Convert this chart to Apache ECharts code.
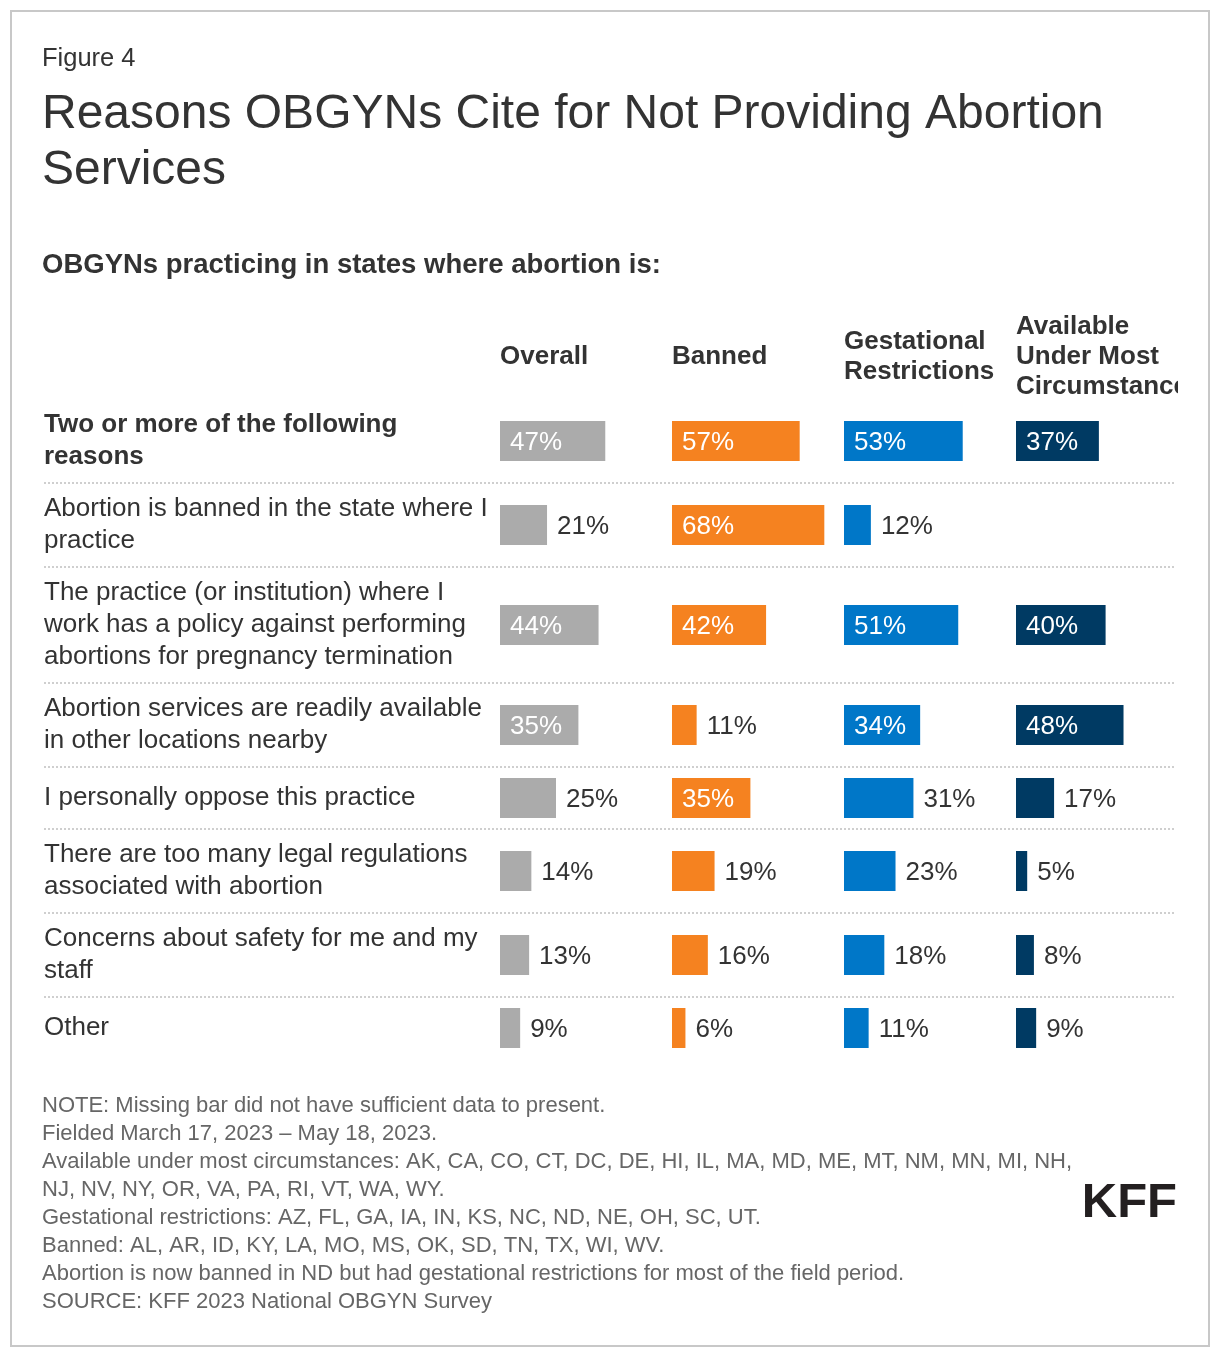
<!DOCTYPE html>
<html>
<head>
<meta charset="utf-8">
<script src="https://cdn.jsdelivr.net/npm/echarts@6/dist/echarts.min.js"></script>
<style>
html,body{margin:0;padding:0;background:#fff;}
#chart{width:1220px;height:1358px;}
</style>
</head>
<body>
<div id="chart"></div>
<script>
// ---- Data ----
const rowLabels = [
  'Two or more of the following\nreasons',
  'Abortion is banned in the state where I\npractice',
  'The practice (or institution) where I\nwork has a policy against performing\nabortions for pregnancy termination',
  'Abortion services are readily available\nin other locations nearby',
  'I personally oppose this practice',
  'There are too many legal regulations\nassociated with abortion',
  'Concerns about safety for me and my\nstaff',
  'Other'
];
const columnNames = ['Overall', 'Banned', 'Gestational\nRestrictions', 'Available\nUnder Most\nCircumstances'];
const overall     = [47, 21, 44, 35, 25, 14, 13, 9];
const banned      = [57, 68, 42, 11, 35, 19, 16, 6];
const gestational = [53, 12, 51, 34, 31, 23, 18, 11];
const available   = [37, null, 40, 48, 17, 5, 8, 9];
const seriesValues = [overall, banned, gestational, available];

const figureLabel = 'Figure 4';
const titleText = 'Reasons OBGYNs Cite for Not Providing Abortion\nServices';
const subtitleText = 'OBGYNs practicing in states where abortion is:';
const notesText = [
  'NOTE: Missing bar did not have sufficient data to present.',
  'Fielded March 17, 2023 \u2013 May 18, 2023.',
  'Available under most circumstances: AK, CA, CO, CT, DC, DE, HI, IL, MA, MD, ME, MT, NM, MN, MI, NH,',
  'NJ, NV, NY, OR, VA, PA, RI, VT, WA, WY.',
  'Gestational restrictions: AZ, FL, GA, IA, IN, KS, NC, ND, NE, OH, SC, UT.',
  'Banned: AL, AR, ID, KY, LA, MO, MS, OK, SD, TN, TX, WI, WV.',
  'Abortion is now banned in ND but had gestational restrictions for most of the field period.',
  'SOURCE: KFF 2023 National OBGYN Survey'
].join('\n');

// ---- Style / layout ----
const FONT = '"Liberation Sans", Arial, Helvetica, sans-serif';
const colors = ['#ababab', '#f58220', '#0077c8', '#003a63'];
const colLeft = [500, 672, 844, 1016];
const pxPerPct = 2.24;
const barH = 40;
const insideThreshold = 33;

// compute row blocks
const rowCenters = [], separators = [];
let yCursor = 399;
rowLabels.forEach((lab, r) => {
  const lines = lab.split('\n').length;
  const h = Math.max(lines * 32, 42) + 20;
  rowCenters.push(yCursor + h / 2);
  yCursor += h;
  if (r < rowLabels.length - 1) separators.push(yCursor);
});

const grids = [], xAxes = [], yAxes = [], series = [];
rowLabels.forEach((lab, r) => {
  seriesValues.forEach((vals, c) => {
    const idx = grids.length;
    grids.push({
      left: colLeft[c], top: rowCenters[r] - barH / 2,
      width: pxPerPct * 100, height: barH,
      containLabel: false, outerBoundsMode: 'none'
    });
    xAxes.push({ type: 'value', gridIndex: idx, min: 0, max: 100, show: false });
    yAxes.push({
      type: 'category', gridIndex: idx, data: [lab],
      show: c === 0,
      axisLine: { show: false }, axisTick: { show: false }, splitLine: { show: false },
      axisLabel: {
        show: c === 0, margin: colLeft[0] - 44, align: 'left', verticalAlign: 'middle',
        fontFamily: FONT, fontSize: 26, lineHeight: 32, color: '#333',
        padding: [4, 0, 0, 0],
        fontWeight: r === 0 ? 'bold' : 'normal'
      }
    });
    const v = vals[r];
    const inside = v != null && v >= insideThreshold;
    series.push({
      type: 'bar', xAxisIndex: idx, yAxisIndex: idx,
      data: [v], barWidth: barH, silent: true,
      itemStyle: { color: colors[c] },
      label: {
        show: v != null,
        position: inside ? 'insideLeft' : 'right',
        distance: 10,
        offset: [0, 2],
        formatter: '{c}%',
        fontFamily: FONT, fontSize: 26,
        color: inside ? '#ffffff' : '#333333'
      }
    });
  });
});

const titles = [
  { text: figureLabel, left: 42, top: 45, padding: 0,
    textStyle: { fontFamily: FONT, fontSize: 25.5, fontWeight: 'normal', color: '#333', lineHeight: 28 } },
  { text: titleText, left: 42, top: 87, padding: 0,
    textStyle: { fontFamily: FONT, fontSize: 48, fontWeight: 'normal', color: '#333', lineHeight: 56 } },
  { text: subtitleText, left: 42, top: 250, padding: 0,
    textStyle: { fontFamily: FONT, fontSize: 27.5, fontWeight: 'bold', color: '#333', lineHeight: 30 } },
  { text: notesText, left: 42, top: 1092, padding: 0,
    textStyle: { fontFamily: FONT, fontSize: 22, fontWeight: 'normal', color: '#666', lineHeight: 28 } }
];
columnNames.forEach((name, c) => {
  const n = name.split('\n').length;
  titles.push({ text: name, left: colLeft[c], top: 357 - n * 30 / 2, padding: 0,
    textStyle: { fontFamily: FONT, fontSize: 26, fontWeight: 'bold', color: '#333', lineHeight: 30 } });
});

const graphics = [
  { type: 'rect', shape: { x: 11, y: 11, width: 1198, height: 1335 },
    style: { fill: 'none', stroke: '#c8c8c8', lineWidth: 2 }, z: 1, silent: true },
  // clip overflowing header text at the right edge of the plot
  { type: 'rect', shape: { x: 1178, y: 300, width: 29, height: 110 },
    style: { fill: '#ffffff' }, z: 100, silent: true },
  { type: 'text', x: 1177, y: 1203, z: 100, silent: true,
    style: { text: 'KFF', align: 'right', verticalAlign: 'middle',
      fontFamily: FONT, fontSize: 49, fontWeight: 'bold', fill: '#231f20' } }
];
separators.forEach(y => {
  graphics.push({ type: 'line', shape: { x1: 44, y1: y, x2: 1176, y2: y },
    style: { stroke: '#cfcfcf', lineWidth: 2, lineDash: [2, 2] }, silent: true, z: 1 });
});

const chart = echarts.init(document.getElementById('chart'), null, { renderer: 'canvas' });
chart.setOption({
  animation: false,
  backgroundColor: '#ffffff',
  title: titles,
  grid: grids,
  xAxis: xAxes,
  yAxis: yAxes,
  series: series,
  graphic: graphics
});
</script>
</body>
</html>
